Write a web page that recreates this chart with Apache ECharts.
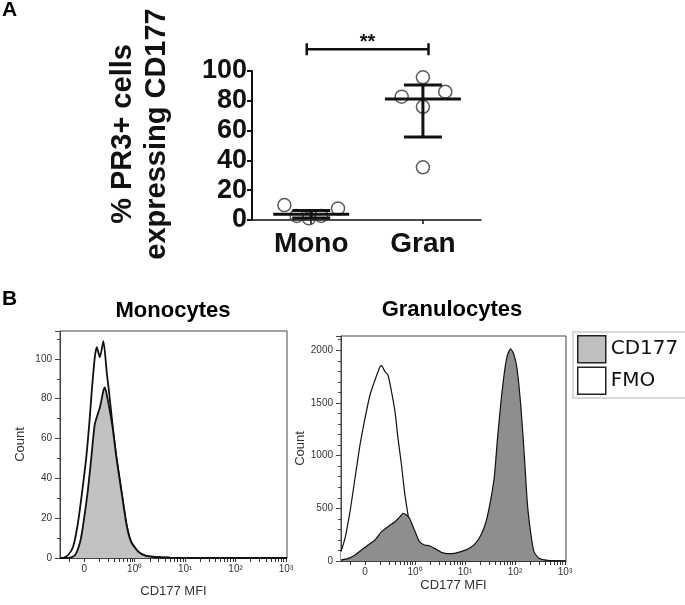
<!DOCTYPE html>
<html>
<head>
<meta charset="utf-8">
<script src="https://cdn.jsdelivr.net/npm/echarts@6/dist/echarts.min.js"></script>
<style>
  html, body { margin: 0; padding: 0; background: #fff; }
  #chart { width: 685px; height: 605px; }
</style>
</head>
<body>
<div id="chart"></div>
<script>
// panel A: % PR3+ cells expressing CD177
const groups = ['Mono', 'Gran']
const monoJitter = [0.76, 0.87, 0.98, 1.09, 1.24]
const monoPct = [10, 2.7, 1.1, 2.7, 7.8]
const granJitter = [2.0, 1.81, 2.2, 2.0, 2.0]
const granPct = [95.8, 82.8, 86.1, 76, 35.4]
const groupMean = [3.8, 81.2]
const groupLow = [1.3, 55.7]
const groupHigh = [6.3, 90.6]
const sigEnds = [0.96, 2.05]
const sigLevel = 114.6
const sigLabel = '**'

// panel B: histograms (x in display decades, 0 .. 10^3)
const mfiTicks = [0, 1, 2, 3, 4]
const mfiTickLabels = ['0', '10⁰', '10¹', '10²', '10³']

const monoFmoX = [-0.48, -0.42, -0.32, -0.22, -0.13, -0.04, 0.04, 0.10, 0.15, 0.21, 0.25, 0.31, 0.38, 0.45, 0.49, 0.56, 0.64, 0.74, 0.84, 0.93, 1.07, 1.21, 1.40, 1.70, 4.02]
const monoFmoY = [0, 0, 1.5, 5.7, 16.7, 33.5, 50.3, 67.2, 84, 100.8, 105.9, 100.8, 108.9, 92.4, 84, 67.2, 50.3, 33.5, 16.7, 8.2, 3.2, 1.2, 0.5, 0.2, 0]
const monoCdX = [-0.48, -0.30, -0.18, -0.08, -0.02, 0.07, 0.14, 0.21, 0.31, 0.38, 0.41, 0.47, 0.56, 0.64, 0.74, 0.84, 0.93, 1.07, 1.21, 1.40, 1.70, 4.02]
const monoCdY = [0, 0, 1.5, 8.2, 16.7, 33.5, 50.3, 67.2, 75.6, 84, 85.7, 79, 66, 50, 33, 16.5, 8, 3.2, 1.2, 0.5, 0.2, 0]

const granFmoX = [-0.48, -0.40, -0.30, -0.20, -0.10, 0.00, 0.10, 0.20, 0.30, 0.33, 0.40, 0.46, 0.53, 0.60, 0.66, 0.73, 0.79, 0.85, 0.92, 1.03, 1.19, 1.39, 4.02]
const granFmoY = [89, 215, 468, 785, 1101, 1354, 1575, 1718, 1844, 1854, 1797, 1765, 1607, 1417, 1164, 911, 658, 468, 278, 120, 25, 0, 0]
const granCdX = [-0.48, -0.33, -0.20, -0.07, 0.06, 0.20, 0.33, 0.46, 0.60, 0.70, 0.76, 0.83, 0.89, 0.96, 1.03, 1.09, 1.19, 1.29, 1.39, 1.53, 1.66, 1.79, 1.92, 2.06, 2.19, 2.32, 2.42, 2.52, 2.59, 2.65, 2.72, 2.79, 2.85, 2.91, 2.97, 3.04, 3.12, 3.19, 3.25, 3.32, 3.38, 3.48, 3.65, 4.02]
const granCdY = [9, 25, 57, 104, 152, 199, 278, 326, 373, 421, 452, 437, 405, 326, 247, 183, 152, 145, 120, 82, 70, 73, 89, 114, 158, 247, 373, 595, 816, 1164, 1512, 1797, 1955, 2012, 1971, 1828, 1449, 974, 531, 247, 89, 25, 6, 0]

const font = "'Liberation Sans', Arial, sans-serif"
const ink = '#111'

// decade ticks plus log-style minor ticks inside each decade
const mfiAllTicks = [-0.3].concat(mfiTicks)
for (let d = 0; d < 4; d++) {
  for (let k = 2; k <= 9; k++) mfiAllTicks.push(+(d + Math.log10(k)).toFixed(3))
}
mfiAllTicks.sort((a, b) => a - b)

const pairs = (xs, ys) => xs.map((x, i) => [x, ys[i]])

function mfiAxis(grid, nameGap) {
  return {
    type: 'value', gridIndex: grid, min: -0.48, max: 4.02,
    axisLine: { onZero: false, lineStyle: { color: '#444', width: 1 } },
    axisTick: { customValues: mfiAllTicks, length: 4, lineStyle: { color: '#333', width: 1 } },
    axisLabel: {
      customValues: mfiTicks, fontSize: 10, color: '#333', margin: 6,
      formatter: v => mfiTickLabels[Math.round(v)]
    },
    splitLine: { show: false },
    name: 'CD177 MFI', nameLocation: 'middle', nameGap: nameGap,
    nameTextStyle: { fontSize: 13, color: '#333' }
  }
}
function countAxis(grid, max, interval, minorSplit) {
  return {
    type: 'value', gridIndex: grid, min: 0, max: max, interval: interval,
    axisLine: { show: true, onZero: false, lineStyle: { color: '#444', width: 1 } },
    axisTick: { show: true, length: 5, lineStyle: { color: '#444' } },
    minorTick: { show: true, splitNumber: minorSplit, length: 3, lineStyle: { color: '#444' } },
    axisLabel: { fontSize: 10, color: '#333', margin: 8, showMaxLabel: false, formatter: v => String(v) },
    splitLine: { show: false },
    name: 'Count', nameLocation: 'middle', nameGap: 33,
    nameTextStyle: { fontSize: 13, color: '#333' }
  }
}
function histLine(name, xi, yi, data, fill, width, z) {
  return {
    name: name, type: 'line', xAxisIndex: xi, yAxisIndex: yi,
    data: data, symbol: 'none', smooth: 0.2, z: z, color: fill,
    lineStyle: { color: ink, width: width },
    areaStyle: { color: fill, opacity: 1 }
  }
}

const chart = echarts.init(document.getElementById('chart'))
chart.setOption({
  animation: false,
  textStyle: { fontFamily: font },
  title: [
    { text: 'A', left: 2, top: 0, padding: 0, textStyle: { fontSize: 21, fontWeight: 'bold', color: '#000', fontFamily: font } },
    { text: 'B', left: 2, top: 289, padding: 0, textStyle: { fontSize: 21, fontWeight: 'bold', color: '#000', fontFamily: font } },
    { text: 'Monocytes', left: 173, top: 300, textAlign: 'center', padding: 0, textStyle: { fontSize: 22, fontWeight: 'bold', color: '#000', fontFamily: font } },
    { text: 'Granulocytes', left: 452, top: 299, textAlign: 'center', padding: 0, textStyle: { fontSize: 22, fontWeight: 'bold', color: '#000', fontFamily: font } }
  ],
  legend: {
    data: [
      { name: 'CD177', icon: 'rect', itemStyle: { color: '#bfbfbf', borderColor: '#222', borderWidth: 1.5 } },
      { name: 'FMO', icon: 'rect', itemStyle: { color: '#fff', borderColor: '#222', borderWidth: 1.5 } }
    ],
    orient: 'vertical', left: 573, top: 332,
    itemWidth: 28, itemHeight: 27, itemGap: 3,
    padding: [3, 20, 3, 4],
    borderColor: '#ccc', borderWidth: 1.5, backgroundColor: '#fff',
    selectedMode: false,
    textStyle: { fontFamily: "'DejaVu Sans', sans-serif", fontSize: 20, color: ink }
  },
  grid: [
    { left: 252, top: 71, right: 204, bottom: 385 },
    { left: 60, top: 331, width: 227, height: 227, show: true, borderColor: '#444', borderWidth: 1 },
    { left: 341, top: 336, width: 225, height: 225, show: true, borderColor: '#444', borderWidth: 1 }
  ],
  xAxis: [
    {
      type: 'value', gridIndex: 0, min: 0.47, max: 2.52,
      axisLine: { onZero: false, lineStyle: { color: ink, width: 1.5 } },
      axisTick: { customValues: [1, 2], length: 4, lineStyle: { color: ink, width: 1.5 } },
      axisLabel: {
        customValues: [1, 2], fontSize: 28, fontWeight: 'bold', color: ink, margin: 10,
        formatter: v => groups[Math.round(v) - 1]
      },
      splitLine: { show: false }
    },
    mfiAxis(1, 27),
    mfiAxis(2, 18)
  ],
  yAxis: [
    {
      type: 'value', gridIndex: 0, min: 0, max: 100, interval: 20,
      axisLine: { show: true, onZero: false, lineStyle: { color: ink, width: 2 } },
      axisTick: { show: true, length: 5, lineStyle: { color: ink, width: 2 } },
      axisLabel: { fontSize: 27, fontWeight: 'bold', color: ink, margin: 5 },
      splitLine: { show: false },
      name: '% PR3+ cells\nexpressing CD177', nameLocation: 'middle', nameGap: 78,
      nameTextStyle: { fontSize: 29, fontWeight: 'bold', color: ink, lineHeight: 34, padding: [0, 0, 0, 23] }
    },
    countAxis(1, 114, 20, 2),
    countAxis(2, 2135, 500, 5)
  ],
  series: [
    {
      type: 'scatter', xAxisIndex: 0, yAxisIndex: 0, z: 2,
      data: pairs(monoJitter, monoPct), symbolSize: 13,
      itemStyle: { color: 'rgba(255,255,255,0)', borderColor: '#333', borderWidth: 1.5 }
    },
    {
      type: 'scatter', xAxisIndex: 0, yAxisIndex: 0, z: 2,
      data: pairs(granJitter, granPct), symbolSize: 13,
      itemStyle: { color: 'rgba(255,255,255,0)', borderColor: '#333', borderWidth: 1.5 }
    },
    {
      type: 'custom', xAxisIndex: 0, yAxisIndex: 0, z: 3,
      data: groups.map((g, i) => [i + 1, groupMean[i], groupLow[i], groupHigh[i]]),
      renderItem(params, api) {
        const x = api.value(0)
        const m = api.coord([x, api.value(1)])
        const lo = api.coord([x, api.value(2)])
        const hi = api.coord([x, api.value(3)])
        const half = api.size([0.34, 0])[0]
        const cap = api.size([0.17, 0])[0]
        const st = { stroke: ink, lineWidth: 3 }
        return {
          type: 'group',
          children: [
            { type: 'line', shape: { x1: m[0] - half, y1: m[1], x2: m[0] + half, y2: m[1] }, style: st },
            { type: 'line', shape: { x1: hi[0], y1: hi[1], x2: lo[0], y2: lo[1] }, style: st },
            { type: 'line', shape: { x1: hi[0] - cap, y1: hi[1], x2: hi[0] + cap, y2: hi[1] }, style: st },
            { type: 'line', shape: { x1: lo[0] - cap, y1: lo[1], x2: lo[0] + cap, y2: lo[1] }, style: st }
          ]
        }
      }
    },
    {
      type: 'custom', xAxisIndex: 0, yAxisIndex: 0, z: 3,
      data: [[sigEnds[0], sigEnds[1], sigLevel]],
      renderItem(params, api) {
        const a = api.coord([api.value(0), api.value(2)])
        const b = api.coord([api.value(1), api.value(2)])
        const st = { stroke: ink, lineWidth: 2.5 }
        return {
          type: 'group',
          children: [
            { type: 'line', shape: { x1: a[0], y1: a[1], x2: b[0], y2: b[1] }, style: st },
            { type: 'line', shape: { x1: a[0], y1: a[1] - 6, x2: a[0], y2: a[1] + 6 }, style: st },
            { type: 'line', shape: { x1: b[0], y1: b[1] - 6, x2: b[0], y2: b[1] + 6 }, style: st },
            {
              type: 'text', x: (a[0] + b[0]) / 2, y: a[1] - 7,
              style: { text: sigLabel, fontSize: 20, fontWeight: 'bold', fontFamily: font, fill: ink, align: 'center', verticalAlign: 'middle' }
            }
          ]
        }
      }
    },
    histLine('FMO', 1, 1, pairs(monoFmoX, monoFmoY), '#ffffff', 1.8, 2),
    histLine('CD177', 1, 1, pairs(monoCdX, monoCdY), '#c2c2c2', 1.8, 3),
    histLine('FMO', 2, 2, pairs(granFmoX, granFmoY), '#ffffff', 1.2, 2),
    histLine('CD177', 2, 2, pairs(granCdX, granCdY), '#8e8e8e', 1.2, 3)
  ]
})
</script>
</body>
</html>
